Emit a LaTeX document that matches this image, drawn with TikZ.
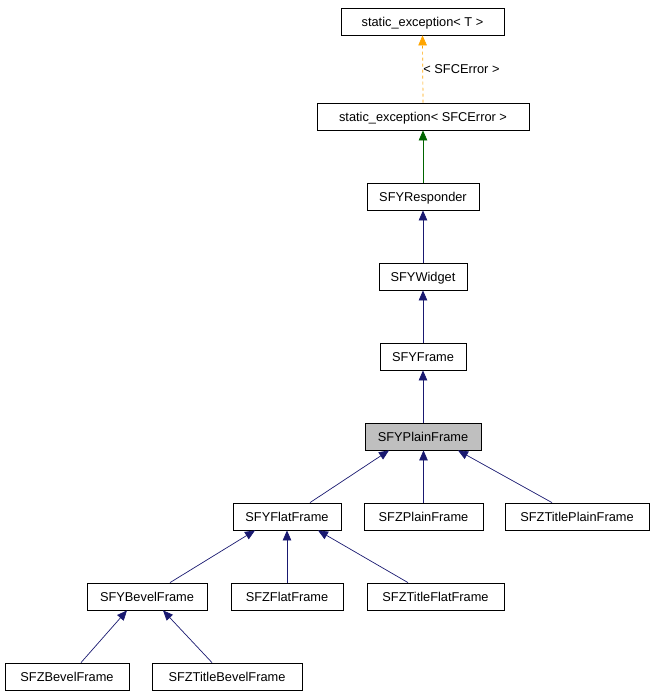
\documentclass[tikz,border=0pt]{standalone}
\usepackage{fontspec}
\setmainfont{Liberation Sans}
\usetikzlibrary{arrows.meta}
\definecolor{navy}{HTML}{191970}
\definecolor{orng}{HTML}{FFA500}
\definecolor{dgreen}{HTML}{006400}
\newcommand{\lb}[1]{#1\hspace{4pt}}
\tikzset{
  cls/.style={draw=black, fill=white, line width=0.8pt, minimum height=27pt, inner sep=0pt, text height=9.2pt, text depth=0pt, font=\fontsize{12.8}{14}\selectfont},
  sel/.style={cls, fill=black!25},
  inh/.style={draw=navy, line width=0.7pt, -{Triangle[length=10pt,width=8.5pt]}},
}
\begin{document}
\begin{tikzpicture}[x=1pt,y=-1pt]
\useasboundingbox (0,0) rectangle (655,696);
\node[cls, minimum width=163pt] (T) at (422.5,21.5) {\lb{static\_exception< T >}};
\node[cls, minimum width=212pt] (SE) at (423,116.5) {\lb{static\_exception< SFCError >}};
\node[cls, minimum width=112pt] (R) at (423,196.5) {\lb{SFYResponder}};
\node[cls, minimum width=88pt] (W) at (423,276.5) {\lb{SFYWidget}};
\node[cls, minimum width=86pt] (F) at (423,356.5) {\lb{SFYFrame}};
\node[sel, minimum width=116pt] (PF) at (423,436.5) {\lb{SFYPlainFrame}};
\node[cls, minimum width=108pt] (FF) at (287,516.5) {\lb{SFYFlatFrame}};
\node[cls, minimum width=119pt] (ZPF) at (423.5,516.5) {\lb{SFZPlainFrame}};
\node[cls, minimum width=144pt] (ZTPF) at (577,516.5) {\lb{SFZTitlePlainFrame}};
\node[cls, minimum width=120pt] (BF) at (147,596.5) {\lb{SFYBevelFrame}};
\node[cls, minimum width=112pt] (ZFF) at (287,596.5) {\lb{SFZFlatFrame}};
\node[cls, minimum width=137pt] (ZTFF) at (435.5,596.5) {\lb{SFZTitleFlatFrame}};
\node[cls, minimum width=124pt] (ZBF) at (67,676.5) {\lb{SFZBevelFrame}};
\node[cls, minimum width=150pt] (ZTBF) at (227,676.5) {\lb{SFZTitleBevelFrame}};

\draw[draw=orng, dashed, line width=0.7pt, -{Triangle[length=10pt,width=8.5pt]}] (SE.north) -- (T.south)
  node[pos=0.5, right=-3pt, font=\fontsize{12.8}{14}\selectfont, text height=9.2pt, text depth=0pt, text=black] (lbl) {< SFCError >};
\draw[draw=dgreen, line width=0.7pt, -{Triangle[length=10pt,width=8.5pt]}] (R.north) -- (SE.south);
\draw[inh] (W.north) -- (R.south);
\draw[inh] (F.north) -- (W.south);
\draw[inh] (PF.north) -- (F.south);
\draw[inh] ([xshift=23pt]FF.north) -- ([xshift=-34pt]PF.south);
\draw[inh] (ZPF.north) -- (ZPF.north |- PF.south);
\draw[inh] ([xshift=-25pt]ZTPF.north) -- ([xshift=35pt]PF.south);
\draw[inh] ([xshift=23pt]BF.north) -- ([xshift=-32pt]FF.south);
\draw[inh] (ZFF.north) -- (FF.south);
\draw[inh] ([xshift=-27.5pt]ZTFF.north) -- ([xshift=31pt]FF.south);
\draw[inh] ([xshift=14pt]ZBF.north) -- ([xshift=-20pt]BF.south);
\draw[inh] ([xshift=-15pt]ZTBF.north) -- ([xshift=16pt]BF.south);
\end{tikzpicture}
\end{document}
